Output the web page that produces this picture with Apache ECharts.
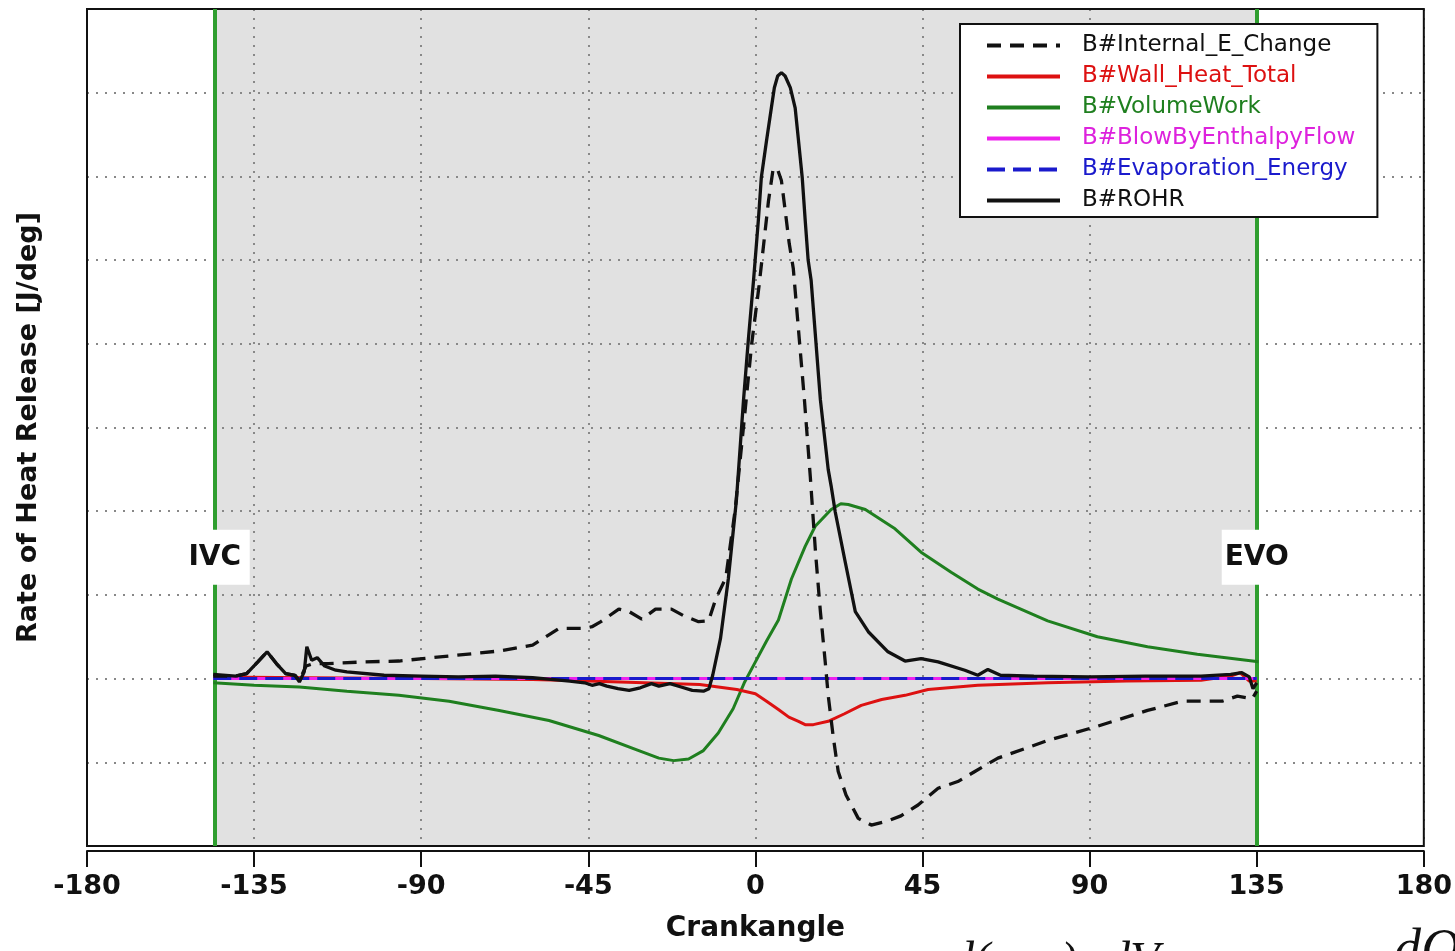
<!DOCTYPE html>
<html>
<head>
<meta charset="utf-8">
<script src="https://cdn.jsdelivr.net/npm/echarts@6/dist/echarts.min.js"></script>
<style>
html,body{margin:0;padding:0;background:#fff;}
#chart{width:1455px;height:951px;}
</style>
</head>
<body>
<div id="chart"></div>
<script>
// ---- data (crank angle [deg], rate [J/deg]) ----
const xTicks = [-180, -135, -90, -45, 0, 45, 90, 135, 180];
const ivcAngle = -145.6;
const evoAngle = 135;

const rohrCA  = [-146,-140,-137,-134,-131.5,-129,-126.5,-124,-122.8,-121.5,-120.8,-119.5,-118,-116,-113,-110,-100,-90,-80,-70,-60,-55,-50,-46,-44,-42,-40,-37,-34,-31,-28,-26,-23,-20,-17,-14,-12.5,-11.5,-9.4,-7.3,-5.1,-3.2,-1.9,-0.5,0.8,1.6,3.0,4.3,5.1,6,7,8,9.4,10.7,11.6,12.6,13.4,14.2,15,17.5,19.6,20.4,21.5,24.2,26.9,30.4,35.7,40.3,44.6,49.2,56.4,59.9,62.6,66,75,90,105,120,128,131,133,134,135];
const rohrVal = [0.5,0.3,0.6,2.0,3.2,1.8,0.6,0.4,-0.4,0.8,3.8,2.2,2.5,1.5,1.0,0.8,0.4,0.3,0.2,0.3,0.1,-0.1,-0.3,-0.5,-0.8,-0.6,-0.9,-1.2,-1.4,-1.1,-0.6,-0.9,-0.6,-1.0,-1.4,-1.5,-1.2,0.4,4.8,11.9,21.4,33.3,40.5,47.6,54.8,59.9,64.3,68.2,70.6,72.0,72.4,72.0,70.6,68.2,64.3,59.9,54.8,50.0,47.6,33.3,25.0,23.0,19.9,13.9,8.0,5.6,3.2,2.1,2.4,2.0,1.0,0.4,1.1,0.4,0.3,0.2,0.3,0.3,0.5,0.7,0.2,-1.2,-0.5];

const intCA  = [-146,-140,-137,-134,-131.5,-129,-126.5,-124,-122.8,-121,-119,-115,-105,-96,-82.5,-69,-60,-52.9,-46,-44,-41.6,-36.8,-34,-30.6,-26.9,-22.6,-19.3,-15.3,-12.6,-10.7,-8,-5.5,-3,-1,1,2.5,3.5,4.8,6,7,8,9.1,10.2,11.6,13.2,14.8,16.2,17.5,18.8,19.6,21,22.3,24.4,27.7,31.2,35.7,39.2,43.8,49.2,54.5,59.1,65.3,78.7,92.1,105.6,115,125.7,129.8,133.8,135];
const intVal = [0.3,0.3,0.6,2.0,3.2,1.8,0.6,0.4,-0.2,1.5,1.8,1.8,2.0,2.1,2.7,3.3,4.0,6.0,6.0,6.2,6.8,8.3,8.0,7.1,8.3,8.3,7.5,6.8,6.9,9.5,12,20,31,40,47,53,57,61,60.8,59.5,56,52,49,41.7,33.3,24,15,8.0,2.0,-2.0,-7.1,-11.1,-13.9,-16.7,-17.5,-17.0,-16.4,-15.1,-13.1,-12.3,-11.1,-9.5,-7.4,-5.7,-3.8,-2.7,-2.7,-2.1,-2.4,-1.5];

const volCA  = [-146,-135,-122.8,-110,-96,-82.5,-69,-55.6,-42.2,-31.4,-26,-22,-18,-14,-10,-6,-3,0,3,6.2,9.7,13.4,16.1,20.4,23,25,29.6,37.6,44.6,52.7,59.9,65.3,78.7,92.1,105.6,119,135.5];
const volVal = [-0.5,-0.8,-1.0,-1.5,-2.0,-2.7,-3.8,-5.0,-6.8,-8.6,-9.5,-9.8,-9.6,-8.6,-6.5,-3.6,-0.5,2.0,4.5,7.0,11.9,15.8,18.2,20.2,20.9,20.8,20.2,17.9,15.1,12.7,10.7,9.5,6.9,5.0,3.8,2.9,2.0];

const wallCA  = [-146,-120,-90,-60,-45,-30,-15,-10,-5,0,3,6.2,9,11.6,13.4,15.6,19.6,24,28.5,34,40.3,46.5,59.9,78.7,100,120,128,130.5,133,135];
const wallVal = [0.2,0.1,0.0,-0.1,-0.3,-0.5,-0.7,-1.0,-1.3,-1.8,-2.7,-3.7,-4.6,-5.1,-5.5,-5.5,-5.1,-4.2,-3.2,-2.5,-2.0,-1.3,-0.8,-0.5,-0.3,-0.2,0.3,0.7,-0.3,-0.3];

const blowCA  = [-146,-90,-45,0,45,90,135];
const blowVal = [0,0,0,0,0,0,0];
const evapCA  = [-146,-90,-45,0,45,90,135];
const evapVal = [0,0,0,0,0,0,0];

const markerNames = ['IVC', 'EVO'];
const markerCA = [ivcAngle, evoAngle];
const markerY = [14.5, 14.5];

const zip = (a, b) => a.map((v, i) => [v, b[i]]);

const legendNames = ['B#Internal_E_Change','B#Wall_Heat_Total','B#VolumeWork','B#BlowByEnthalpyFlow','B#Evaporation_Energy','B#ROHR'];
const legendColors = ['#111111','#dd1111','#1f7f1f','#dd22dd','#1a1acc','#111111'];

const chart = echarts.init(document.getElementById('chart'), null, {renderer:'canvas'});

const lineBase = (name, data, color, type, z, w) => ({
  name, type:'line', data, showSymbol:false, symbol:'none', z: z,
  lineStyle:{color, width:w || 3, type}, itemStyle:{color}, animation:false
});

const option = {
  backgroundColor:'#ffffff',
  animation:false,
  grid:{left:87, right:28, top:9, bottom:105, show:true, borderColor:'#111', borderWidth:2, backgroundColor:'transparent', z:4},
  xAxis:{
    type:'value', min:-180, max:180, interval:45, offset:5, z:3,
    axisLine:{show:true, onZero:false, lineStyle:{color:'#111', width:2}},
    axisTick:{show:true, length:16, lineStyle:{color:'#111', width:2}},
    axisLabel:{margin:22, color:'#111', fontFamily:'DejaVu Sans', fontWeight:'bold', fontSize:27,
      formatter: v => xTicks.includes(v) ? String(v) : ''},
    splitLine:{show:true, lineStyle:{color:'#888', width:2, type:[2,7]}},
    name:'Crankangle', nameLocation:'middle', nameGap:64,
    nameTextStyle:{color:'#111', fontFamily:'DejaVu Sans', fontWeight:'bold', fontSize:28}
  },
  yAxis:{
    type:'value', min:-20, max:80, interval:10, z:3,
    axisLine:{show:false}, axisTick:{show:false}, axisLabel:{show:false},
    splitLine:{show:true, lineStyle:{color:'#888', width:2, type:[2,7]}},
    name:'Rate of Heat Release [J/deg]', nameLocation:'middle', nameGap:45,
    nameTextStyle:{color:'#111', fontFamily:'DejaVu Sans', fontWeight:'bold', fontSize:27}
  },
  legend:{
    orient:'vertical', left:960, top:24, z:10,
    backgroundColor:'#fff', borderColor:'#111', borderWidth:2,
    padding:[10,22,5,25], itemWidth:73, itemHeight:14, itemGap:8,
    itemStyle:{opacity:0},
    lineStyle:{width:4},
    textStyle:{fontFamily:'DejaVu Sans', fontSize:23, lineHeight:22, padding:[0,0,0,17]},
    data: legendNames.map((n,i) => ({name:n, textStyle:{color:legendColors[i]}}))
  },
  series:[
    {
      name:'bg', type:'line', data:[], z:1, silent:true,
      markArea:{silent:true, itemStyle:{color:'#e1e1e1'}, data:[[{xAxis:ivcAngle},{xAxis:evoAngle}]]},
      markLine:{silent:true, symbol:['none','none'], label:{show:false},
        lineStyle:{color:'#2f9e2f', width:4, type:'solid'},
        data: markerCA.map(v => ({xAxis:v}))}
    },
    lineBase('B#VolumeWork', zip(volCA, volVal), '#1f7f1f', 'solid', 5),
    lineBase('B#Wall_Heat_Total', zip(wallCA, wallVal), '#dd1111', 'solid', 5),
    lineBase('B#BlowByEnthalpyFlow', zip(blowCA, blowVal), '#ee22ee', 'solid', 5),
    lineBase('B#Evaporation_Energy', zip(evapCA, evapVal), '#1a1acc', [18,8], 6),
    lineBase('B#Internal_E_Change', zip(intCA, intVal), '#111111', [14,9], 6, 3.3),
    lineBase('B#ROHR', zip(rohrCA, rohrVal), '#111111', 'solid', 6, 3.3),
    {
      name:'markers', type:'scatter', z:7, silent:true,
      data: markerCA.map((v,i) => ({value:[v, markerY[i]], name:markerNames[i]})),
      symbol:'rect', symbolSize:[70,55], itemStyle:{color:'#ffffff', opacity:1},
      label:{show:true, position:'inside', formatter: p => p.name, color:'#111', opacity:1,
        fontFamily:'DejaVu Sans', fontWeight:'bold', fontSize:28}
    }
  ],
  graphic:[
    {type:'text', left:950, top:938, silent:true, style:{text:'d(m\u00b7u)', font:'italic 48px "Liberation Serif"', fill:'#111'}},
    {type:'text', left:1106, top:938, silent:true, style:{text:'dV', font:'italic 48px "Liberation Serif"', fill:'#111'}},
    {type:'text', left:1394, top:925, silent:true, style:{text:'dQ', font:'italic 54px "Liberation Serif"', fill:'#111'}}
  ]
};
chart.setOption(option);
</script>
</body>
</html>
